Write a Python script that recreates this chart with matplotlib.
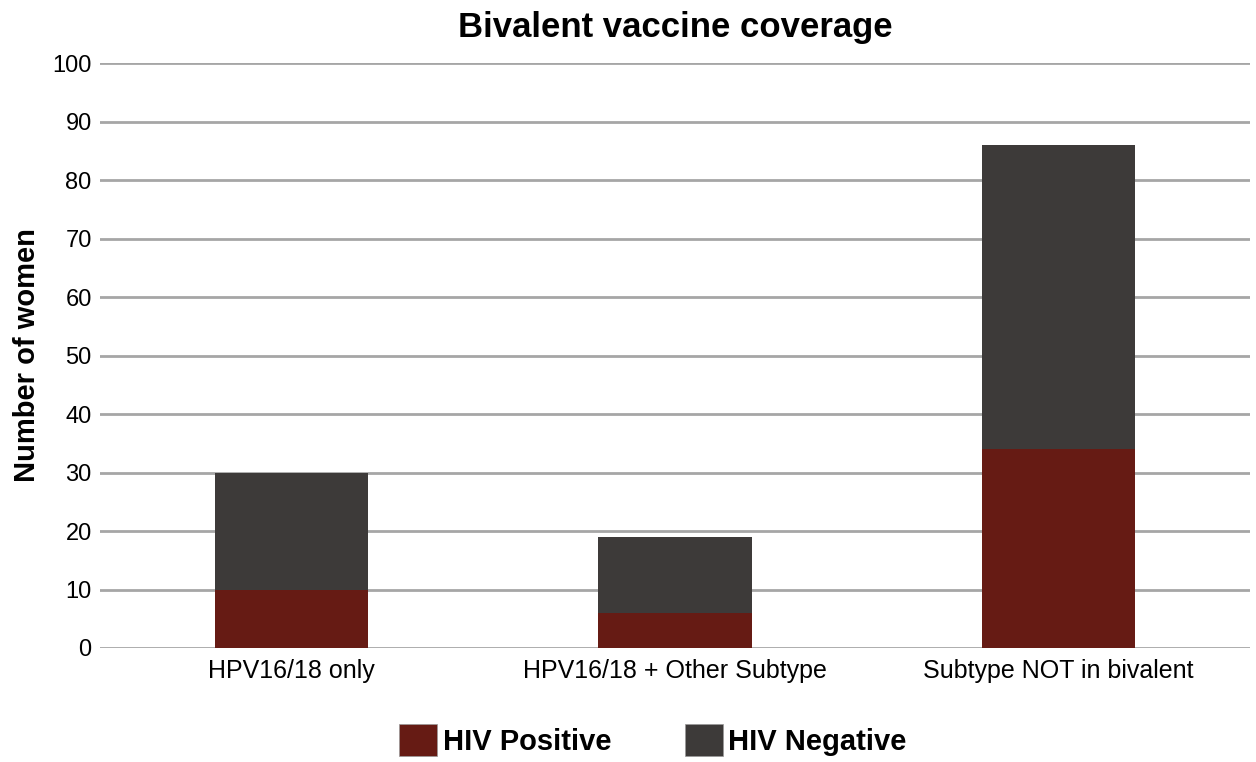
import numpy as np
import matplotlib
matplotlib.use("Agg")
import matplotlib.pyplot as plt
from matplotlib.patches import Patch

plt.rcParams["font.family"] = ["Liberation Sans", "DejaVu Sans"]

categories = ["HPV16/18 only", "HPV16/18 + Other Subtype", "Subtype NOT in bivalent"]
hiv_positive = [10, 6, 34]
hiv_negative = [20, 13, 52]
series_names = ["HIV Positive", "HIV Negative"]
colors = ["#661b14", "#3d3a39"]

fig = plt.figure(figsize=(12.56, 7.62), dpi=100)
ax = fig.add_axes([100/1256, 1 - 648/762, 1150/1256, (648 - 63)/762])

x = np.arange(len(categories))
w = 0.4
ax.bar(x, hiv_positive, w, color=colors[0], zorder=3)
ax.bar(x, hiv_negative, w, bottom=hiv_positive, color=colors[1], zorder=3)

ax.set_xlim(-0.5, len(categories) - 0.5)
ax.set_ylim(0, 100)
ax.set_yticks(np.arange(0, 101, 10))
ax.set_xticks(x)
ax.set_xticklabels(categories, fontsize=18)
ax.tick_params(axis="y", labelsize=17, length=0, pad=6)
ax.tick_params(axis="x", length=0, pad=8)
ax.yaxis.grid(True, color="#a6a6a6", linewidth=2, zorder=0)
for s in ax.spines.values():
    s.set_visible(False)

ax.set_ylabel("Number of women", fontsize=21, fontweight="bold", labelpad=8)
ax.set_title("Bivalent vaccine coverage", fontsize=25, fontweight="bold", pad=19)

handles = [Patch(facecolor=c, edgecolor="#999999", linewidth=0.5) for c in colors]
fig.legend(handles, series_names, loc="center", bbox_to_anchor=(0.52, 1 - 740/762),
           ncol=2, frameon=False, prop={"size": 21, "weight": "bold"},
           handlelength=1.3, handleheight=1.3, columnspacing=2.5, handletextpad=0.2)

fig.savefig("out.png", dpi=100, facecolor="white")
